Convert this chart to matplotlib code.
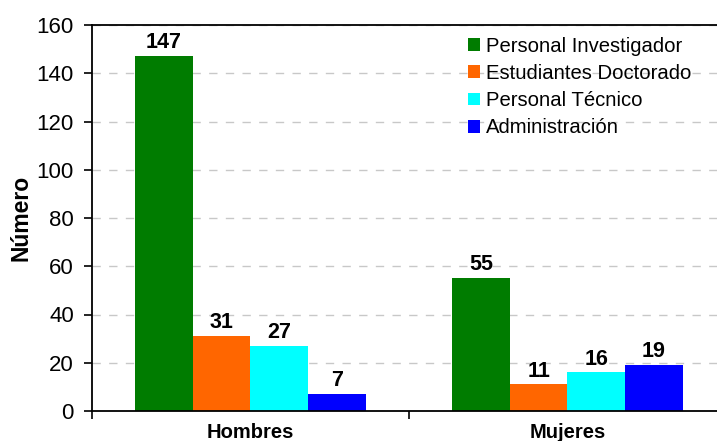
import numpy as np
import matplotlib.pyplot as plt
from matplotlib.patches import Patch

plt.rcParams['font.family'] = ['Liberation Sans', 'DejaVu Sans']

categories = ['Hombres', 'Mujeres']
series = ['Personal Investigador', 'Estudiantes Doctorado', 'Personal Técnico', 'Administración']
values = [
    [147, 55],
    [31, 11],
    [27, 16],
    [7, 19],
]
colors = ['#007c00', '#ff6600', '#00ffff', '#0000ff']

fig = plt.figure(figsize=(7.17, 4.41), dpi=100)
ax = fig.add_axes([92 / 717, 30 / 441, 634 / 717, 386 / 441])

x = np.arange(len(categories))
w = 0.182
for i, (name, vals) in enumerate(zip(series, values)):
    pos = x + (i - 1.5) * w
    ax.bar(pos, vals, width=w, color=colors[i], label=name, zorder=2)
    for p, v in zip(pos, vals):
        ax.text(p, v + 1.2, str(v), ha='center', va='bottom',
                fontsize=15.5, fontweight='bold', zorder=3)

ax.set_xlim(-0.5, 1.5)
ax.set_ylim(0, 160)
ax.set_yticks(np.arange(0, 161, 20))
ax.set_xticks([-0.5, 0.5, 1.5])
ax.set_xticklabels([])
ax.set_xticks(x, minor=True)
ax.set_xticklabels(categories, minor=True, fontsize=14.5, fontweight='bold')
ax.tick_params(axis='x', which='minor', length=0, pad=9)
ax.tick_params(axis='x', which='major', length=6, width=1.2, direction='out')
ax.tick_params(axis='y', length=6, width=1.2, labelsize=16, pad=7)

ax.yaxis.grid(True, linestyle=(0, (6, 6)), color='#c8c8c8', linewidth=1, zorder=0)
ax.set_axisbelow(True)
for s in ['left', 'bottom', 'top']:
    ax.spines[s].set_linewidth(1.3)
    ax.spines[s].set_color('black')
ax.spines['right'].set_visible(False)

ax.set_ylabel('Número', fontsize=16.5, fontweight='bold', labelpad=3)

handles = [Patch(facecolor=c, edgecolor='none') for c in colors]
ax.legend(handles, series, loc='upper left', bbox_to_anchor=(0.58, 0.99),
          frameon=False, fontsize=14.6, handlelength=0.6, handleheight=0.6,
          handletextpad=0.3, labelspacing=0.4, borderaxespad=0)

fig.savefig('out.png', dpi=100)
